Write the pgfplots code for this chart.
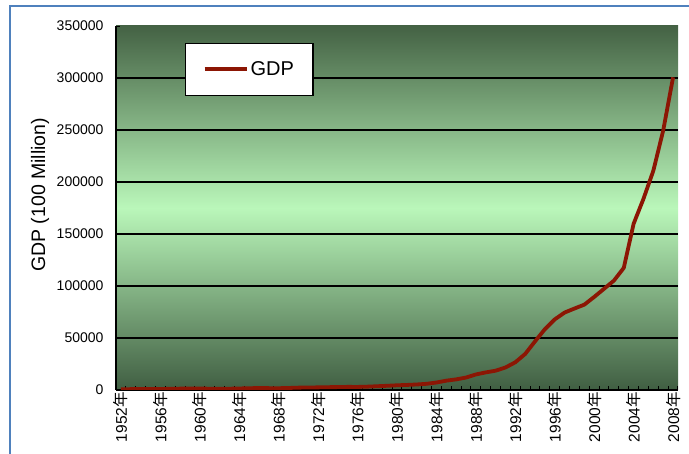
\documentclass[border=0pt]{standalone}
\usepackage{pgfplots}
\pgfplotsset{compat=1.18}
\usepackage{fontspec}
\setmainfont{Liberation Sans}
\newfontfamily\cjk{Noto Sans CJK SC}
\definecolor{gdpline}{RGB}{140,22,4}
\definecolor{bgdark}{RGB}{68,98,68}
\definecolor{bglight}{RGB}{186,247,186}
\definecolor{bgbot}{RGB}{64,94,66}
\definecolor{frameblue}{RGB}{79,129,189}
\pgfplotstableread{
year gdp
1952 679.0
1953 824.0
1954 859.0
1955 910.0
1956 1028.0
1957 1068.0
1958 1307.0
1959 1439.0
1960 1457.0
1961 1220.0
1962 1149.3
1963 1233.3
1964 1454.0
1965 1716.1
1966 1868.0
1967 1773.9
1968 1723.1
1969 1937.9
1970 2252.7
1971 2426.4
1972 2518.1
1973 2720.9
1974 2789.9
1975 2997.3
1976 2943.7
1977 3201.9
1978 3624.1
1979 4038.2
1980 4517.8
1981 4862.4
1982 5294.7
1983 5934.5
1984 7171.0
1985 8964.4
1986 10202.2
1987 11962.5
1988 14928.3
1989 16909.2
1990 18547.9
1991 21617.8
1992 26638.1
1993 34634.4
1994 46759.4
1995 58478.1
1996 67884.6
1997 74462.6
1998 78345.2
1999 82067.5
2000 89468.1
2001 97314.8
2002 105172.3
2003 117390.2
2004 159878.3
2005 183867.9
2006 210871.0
2007 249529.9
2008 300670.0
}\gdptable
\begin{document}
\begin{tikzpicture}
\useasboundingbox (0,0) rectangle (689pt,454pt);
\draw[frameblue, line width=2.2pt] (10pt,-5pt) -- (10pt,448pt) -- (700pt,448pt);
\shade[top color=bgdark, bottom color=bgbot, middle color=bglight] (116pt,64pt) rectangle (678pt,428pt);
\begin{axis}[
  at={(116pt,64pt)}, anchor=south west,
  scale only axis, width=562pt, height=364pt,
  xmin=1951.5, xmax=2008.5, ymin=0, ymax=350000,
  axis x line*=bottom, axis y line*=left,
  axis line style={black, line width=1.4pt, -},
  xtick={1952,1956,...,2008},
  xticklabels={1952{\cjk 年},1956{\cjk 年},1960{\cjk 年},1964{\cjk 年},1968{\cjk 年},1972{\cjk 年},1976{\cjk 年},1980{\cjk 年},1984{\cjk 年},1988{\cjk 年},1992{\cjk 年},1996{\cjk 年},2000{\cjk 年},2004{\cjk 年},2008{\cjk 年}},
  xticklabel style={rotate=90, anchor=east, font=\fontsize{15.5}{15.5}\selectfont, inner sep=2pt},
  major x tick style={draw=none},
  minor xtick={1951.5,1952.5,...,2008.5},
  minor x tick style={black, line width=1pt},
  minor tick length=4pt,
  tick align=inside,
  ytick={0,50000,...,350000},
  major y tick style={black, line width=0.8pt},
  yticklabel style={font=\fontsize{14}{14}\selectfont, xshift=-9pt, /pgf/number format/fixed, /pgf/number format/1000 sep={}, /pgf/number format/assume math mode=true},
  scaled y ticks=false,
  extra y ticks={50000,100000,150000,200000,250000,300000},
  extra y tick labels={},
  extra y tick style={grid=major, major grid style={black, line width=1.3pt}, major tick length=0pt},
  ylabel={GDP (100 Million)},
  every axis y label/.style={at={(axis description cs:-0.135,0.536)}, rotate=90, anchor=center, font=\fontsize{19.5}{19.5}\selectfont},
  legend style={at={(axis description cs:0.1228,0.953)}, anchor=north west, draw=black, line width=1.2pt, fill=white, inner xsep=17pt, inner ysep=16pt, font=\fontsize{20}{20}\selectfont, cells={anchor=west}},
  legend image code/.code={\draw[#1, line width=4pt] (0pt,0pt) -- (42pt,0pt);},
]
\addplot[gdpline, line width=3.8pt, line join=round] table[x=year, y=gdp] {\gdptable};
\addlegendentry{GDP}
\end{axis}
\end{tikzpicture}
\end{document}
